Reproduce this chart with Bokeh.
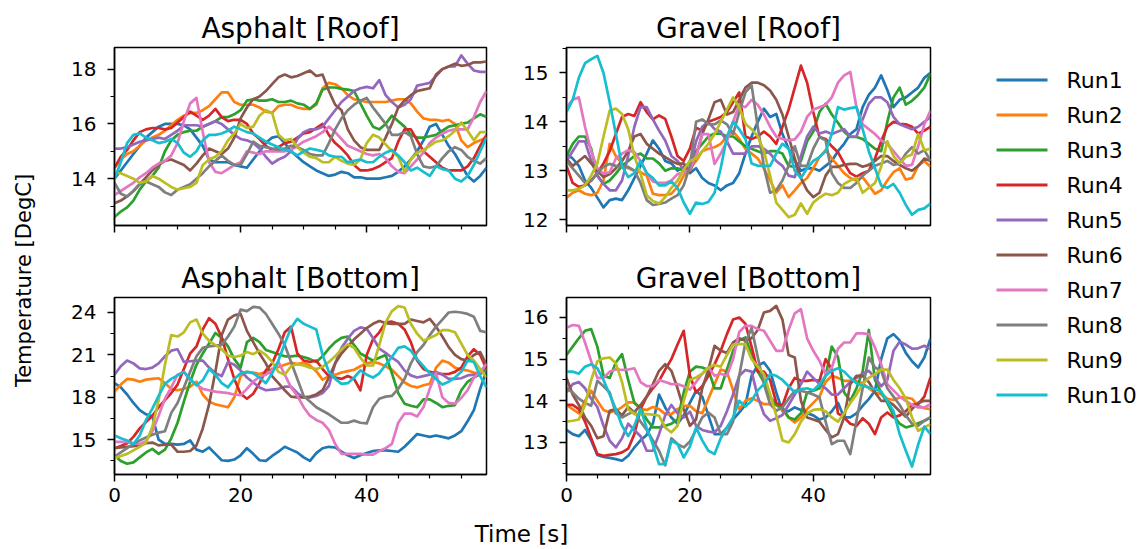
import math
from bokeh.plotting import figure
from bokeh.layouts import row, column
from bokeh.models import Range1d, FixedTicker, CustomJSTickFormatter
from bokeh.core.properties import value
from bokeh.embed import file_html
from bokeh.resources import INLINE

FONT = "DejaVu Sans"

time_s = list(range(60))
run_names = [f"Run{i}" for i in range(1, 11)]
run_colors = ["#1f77b4", "#ff7f0e", "#2ca02c", "#d62728", "#9467bd",
              "#8c564b", "#e377c2", "#7f7f7f", "#bcbd22", "#17becf"]

x_major = [0, 20, 40]
x_minor = [5, 10, 15, 25, 30, 35, 45, 50, 55]

# Asphalt, roof sensor (DegC), Run1..Run10
asphalt_roof = [
    [14.0,14.3,14.6,14.9,15.2,15.5,15.7,15.9,16.0,16.0,16.0,15.95,15.8,15.5,15.2,14.7,14.6,14.6,14.6,14.5,
     14.45,14.4,14.7,15.0,15.3,15.5,15.55,15.3,15.0,14.8,14.6,14.45,14.3,14.2,14.1,14.15,14.25,14.2,14.05,14.05,
     14.0,14.0,14.0,14.05,14.1,14.25,14.45,14.7,15.0,15.4,15.9,16.0,15.6,15.2,14.9,14.5,14.1,13.9,14.1,14.4],
    [14.4,14.7,14.9,15.0,15.2,15.4,15.5,15.6,15.75,15.95,16.15,16.3,16.4,16.4,16.5,16.65,16.9,17.15,17.15,16.8,
     16.7,16.7,16.7,16.6,16.45,16.4,16.65,16.7,16.7,16.6,16.55,16.55,16.7,17.3,17.5,17.45,17.3,17.05,16.9,16.85,
     16.8,16.8,16.8,16.8,16.85,16.9,16.9,16.75,16.45,16.2,16.15,16.15,16.1,16.15,16.0,15.4,15.15,15.3,15.4,15.5],
    [12.6,12.8,12.95,13.2,13.6,13.9,14.1,14.4,15.0,15.4,15.6,15.7,15.75,15.75,15.9,16.0,16.1,16.25,16.25,16.35,
     16.5,16.85,16.9,16.85,16.85,16.9,16.8,16.8,16.85,16.75,16.7,16.55,16.75,17.25,17.33,17.33,17.28,17.25,17.2,16.75,
     16.3,15.9,15.8,16.0,16.3,16.1,15.9,15.6,15.5,15.5,15.55,15.6,15.75,15.9,15.95,16.0,16.05,16.2,16.35,16.25],
    [14.4,14.8,15.05,15.4,15.7,15.8,15.85,15.85,15.8,15.85,16.05,16.25,16.45,16.3,16.15,16.3,16.55,16.25,16.1,16.15,
     16.15,16.0,15.65,15.45,15.2,15.05,15.15,15.3,15.35,15.5,15.65,15.7,15.85,16.0,15.6,15.3,15.1,14.85,14.5,14.3,
     14.3,14.35,14.45,14.6,14.75,15.35,15.8,15.8,15.4,15.0,14.8,14.6,14.4,14.3,14.3,14.3,14.45,14.75,15.2,15.6],
    [15.1,15.1,15.15,15.25,15.35,15.4,15.45,15.5,15.45,15.6,15.75,15.95,15.95,15.95,15.9,16.0,16.1,16.0,15.8,15.6,
     15.45,15.4,15.3,15.1,14.8,14.55,14.7,14.8,15.0,15.45,15.7,15.8,15.8,15.9,16.2,16.5,16.8,17.0,17.2,17.3,
     17.35,17.3,17.6,17.05,16.8,16.6,16.7,16.9,17.4,17.45,17.5,17.75,18.0,18.1,18.1,18.5,18.2,17.95,17.9,17.9],
    [13.1,13.2,13.35,13.55,13.8,14.05,14.3,14.5,14.65,14.7,14.6,14.5,14.3,14.55,14.85,15.1,15.0,14.9,15.1,15.5,
     16.2,16.6,16.9,17.0,17.2,17.45,17.7,17.8,17.7,17.75,17.85,17.95,17.75,17.8,17.2,16.7,16.5,15.8,15.4,15.15,
     15.05,15.05,15.05,15.5,16.0,16.6,16.85,17.05,17.2,17.25,17.3,17.8,18.0,18.1,18.2,18.12,18.15,18.25,18.25,18.28],
    [13.4,13.55,13.7,13.85,14.05,14.2,14.4,14.55,14.65,14.85,15.3,16.1,16.75,16.95,15.7,14.6,14.25,14.2,14.35,14.5,
     14.6,15.0,14.95,14.9,15.0,15.0,15.0,15.0,15.05,15.2,15.35,15.45,15.55,15.7,15.9,15.7,15.45,15.2,15.1,15.0,
     14.9,14.85,14.9,14.75,14.45,14.25,14.2,14.45,14.7,14.95,15.3,15.5,15.65,15.75,15.8,15.8,15.8,16.25,16.8,17.2],
    [13.85,13.45,13.35,13.55,13.8,13.9,13.8,13.7,13.5,13.4,13.6,13.7,13.8,14.0,14.2,14.45,14.65,14.85,14.65,14.5,
     14.5,14.9,15.35,15.2,15.15,15.1,15.05,15.1,15.2,15.15,15.05,14.9,14.85,14.85,15.3,15.8,16.2,16.5,16.7,16.85,
     16.95,16.6,16.3,16.0,15.6,15.6,15.7,15.55,14.9,14.45,14.4,14.45,14.75,15.0,15.15,15.05,14.8,14.65,14.55,14.75],
    [14.2,14.2,14.1,14.0,13.85,13.9,14.1,14.0,13.85,13.7,13.6,13.65,13.7,13.85,14.5,14.7,14.8,15.0,15.4,15.65,
     16.0,15.85,15.9,16.3,16.5,16.4,15.6,15.4,15.45,15.15,14.95,14.8,14.75,14.6,14.6,14.8,14.65,14.55,14.5,14.7,
     15.3,15.6,15.5,15.25,15.0,14.8,14.25,14.7,14.95,15.05,15.2,15.35,15.4,15.55,15.75,16.05,15.75,15.4,15.7,15.7],
    [14.0,14.6,15.3,15.6,15.65,15.5,15.4,15.3,15.35,15.45,15.3,14.95,14.8,15.0,15.4,15.6,15.6,15.65,15.75,15.9,
     15.8,15.7,15.65,15.5,15.35,15.25,15.15,15.05,15.0,14.85,15.0,15.1,15.05,15.0,14.85,14.8,14.8,14.6,14.65,14.7,
     14.6,14.6,14.8,14.95,15.05,14.85,14.6,14.3,14.4,14.25,14.1,14.45,14.35,14.3,14.0,13.9,14.1,14.5,15.0,15.5],
]

# Gravel, roof sensor (DegC), Run1..Run10
gravel_roof = [
    [13.35,13.25,13.1,12.8,12.65,12.45,12.25,12.4,12.43,12.4,12.6,12.85,13.1,13.35,13.62,13.45,13.2,13.15,13.0,13.08,
     12.95,13.05,12.85,12.75,12.7,12.6,12.7,12.75,12.95,13.35,13.7,14.0,14.27,14.1,14.16,13.75,13.45,13.2,13.0,13.05,
     13.05,13.0,13.1,13.2,13.4,13.55,13.75,13.85,14.3,14.55,14.7,14.95,14.65,14.3,14.45,14.5,14.6,14.7,14.9,15.0],
    [12.45,12.55,12.6,12.53,12.5,12.55,12.8,13.55,13.3,13.15,13.05,13.0,12.97,12.9,12.53,12.5,12.5,12.53,12.67,12.9,
     13.05,13.2,13.4,13.45,13.48,13.55,13.7,13.8,13.65,13.45,13.35,13.25,13.05,12.8,12.55,12.7,12.46,12.6,12.75,12.85,
     13.05,13.28,13.42,13.25,13.1,12.95,12.85,12.8,12.87,12.7,12.53,12.6,12.8,12.97,13.05,12.82,12.85,13.1,13.2,13.08],
    [13.3,13.55,13.7,13.7,13.45,12.9,12.73,12.8,12.94,13.1,13.2,13.3,13.35,13.25,13.25,13.15,13.0,13.05,13.05,13.0,
     13.2,13.4,13.55,13.7,13.76,13.76,13.7,13.7,13.6,13.5,13.45,13.4,13.35,13.4,13.4,13.35,13.1,13.08,13.2,13.6,
     13.8,14.2,14.37,14.15,13.98,13.8,13.69,13.69,13.65,13.55,13.45,13.4,14.0,14.5,14.7,14.35,14.43,14.55,14.7,14.98],
    [13.1,12.75,12.67,12.7,12.8,12.95,13.15,13.4,13.75,14.1,14.16,14.12,14.4,14.2,14.05,14.13,14.06,13.7,13.3,13.2,
     13.45,13.88,13.82,14.0,14.05,14.1,14.2,14.4,14.6,13.7,13.65,13.7,13.8,13.7,13.55,13.9,14.25,14.7,15.15,14.8,
     14.2,13.69,13.65,13.5,13.38,13.15,12.95,12.88,12.95,13.0,13.25,13.6,13.9,14.0,13.96,13.95,13.9,13.76,13.82,13.9],
    [13.2,13.4,13.6,13.6,13.2,12.9,12.73,12.6,12.6,12.8,13.3,13.9,14.3,14.3,14.05,13.82,13.62,13.3,13.2,13.02,
     13.05,13.6,13.9,14.0,13.85,13.8,13.6,13.35,13.35,13.35,13.5,13.5,13.45,13.35,13.2,13.1,12.9,12.87,13.3,13.7,
     13.9,13.76,13.8,13.75,13.8,13.85,13.7,13.7,14.05,14.37,14.5,14.5,14.4,14.1,13.95,13.9,13.85,13.9,14.0,14.1],
    [13.25,13.1,13.2,13.3,13.15,13.0,12.87,12.93,13.05,13.2,13.4,13.7,13.75,13.55,13.45,13.35,13.28,13.2,13.14,13.15,
     12.98,13.3,13.75,14.05,14.4,14.45,14.15,14.2,14.45,14.7,14.8,14.8,14.75,14.64,14.45,14.15,13.7,13.25,12.85,12.6,
     12.46,12.55,12.9,13.08,13.08,13.12,13.14,13.14,13.08,13.12,13.2,13.3,13.3,13.2,13.12,13.05,13.0,13.1,13.25,13.2],
    [14.3,14.45,14.5,13.9,13.4,13.05,12.94,12.97,13.25,13.35,13.42,13.38,13.2,12.95,12.78,12.75,12.75,12.8,12.93,12.97,
     13.02,13.3,13.75,13.75,13.14,13.35,13.6,14.0,14.35,14.3,14.45,14.35,14.15,13.9,13.7,13.65,13.62,13.64,13.8,14.1,
     14.25,14.3,14.35,14.5,14.8,14.95,15.02,14.3,13.95,13.85,13.75,13.62,13.55,13.4,13.25,13.1,13.12,13.5,13.95,14.23],
    [13.2,13.05,12.9,12.75,12.8,12.95,13.08,13.14,13.1,13.08,13.08,13.0,12.75,12.4,12.3,12.32,12.35,12.43,12.5,12.7,
     13.1,14.0,14.05,13.95,13.95,14.03,13.95,13.75,14.2,14.6,14.75,13.9,13.08,12.55,12.6,12.8,13.1,13.5,13.1,13.1,
     13.45,13.69,13.62,12.95,12.75,12.65,12.65,12.75,12.9,13.0,13.1,13.15,13.2,13.12,13.15,13.35,13.48,13.35,13.42,13.2],
    [12.6,12.6,12.63,12.7,12.9,13.15,13.7,14.23,14.27,14.16,13.85,13.3,12.94,12.5,12.38,12.33,12.46,12.65,12.8,13.02,
     13.2,13.25,13.4,13.55,13.75,14.0,14.25,14.5,14.3,13.96,13.85,13.7,13.4,12.9,12.35,12.2,12.05,12.1,12.33,12.12,
     12.35,12.45,12.53,12.5,12.55,12.73,12.8,12.85,12.55,12.65,12.75,13.08,13.6,13.3,13.15,13.28,13.33,13.75,13.42,13.45],
    [14.2,14.45,14.9,15.2,15.28,15.35,15.0,14.4,13.75,13.1,12.87,12.95,13.2,12.95,12.85,12.7,12.7,12.78,12.65,12.35,
     12.12,12.35,12.32,12.36,12.55,13.05,13.7,14.0,13.85,13.65,13.15,13.1,13.1,13.1,13.35,13.55,13.45,13.0,12.85,13.05,
     13.2,13.28,13.4,13.75,14.3,14.25,14.28,14.3,13.85,13.4,13.05,12.7,12.65,12.73,12.55,12.3,12.1,12.2,12.23,12.33],
]

# Asphalt, bottom sensor (DegC), Run1..Run10
asphalt_bottom = [
    [19.0,18.7,18.2,17.6,17.1,16.8,16.65,15.0,14.7,14.7,14.65,14.7,14.95,14.3,14.15,14.45,14.0,13.55,13.5,13.6,
     13.9,14.4,14.0,13.55,13.5,13.85,14.15,14.5,14.3,14.1,13.75,13.5,14.05,14.4,14.5,14.45,14.15,13.9,13.7,13.9,
     14.05,14.2,14.25,14.25,14.2,14.15,14.5,14.95,15.4,15.3,15.2,15.3,15.2,15.1,15.3,15.6,16.3,17.1,18.6,19.9],
    [18.4,18.9,19.3,19.25,19.1,19.25,19.3,19.35,19.0,18.6,18.5,18.6,18.75,19.1,18.2,17.7,17.5,17.4,17.3,18.0,
     19.5,19.8,19.75,19.65,19.8,20.0,20.15,20.3,20.45,20.35,20.45,20.25,19.85,19.25,19.5,19.6,19.75,19.85,19.95,20.2,
     20.4,20.5,20.4,20.2,19.95,19.5,19.05,18.8,18.7,18.85,18.95,20.1,20.6,20.45,20.1,19.95,19.9,19.75,19.65,20.0],
    [13.9,13.5,13.3,13.4,13.75,14.1,14.35,14.0,14.3,15.1,16.2,17.7,19.1,20.3,21.1,21.8,22.55,22.2,21.6,20.7,
     20.1,21.9,22.2,21.9,21.35,21.2,21.05,20.9,20.9,20.95,20.85,20.7,20.5,20.9,21.45,21.9,22.2,22.3,21.7,21.1,
     20.85,20.6,20.8,21.0,19.7,18.3,17.55,17.4,17.3,17.85,17.85,17.6,17.3,17.4,17.45,18.5,19.1,19.4,19.65,20.1],
    [14.4,14.55,14.75,15.2,15.8,16.25,16.7,17.3,17.8,18.3,18.9,20.0,21.1,21.6,22.8,23.6,23.2,22.25,20.7,19.3,
     18.25,17.9,18.25,19.0,19.9,20.4,21.4,22.6,23.0,21.1,20.6,20.5,20.6,20.0,19.5,19.4,19.3,19.5,19.3,18.5,
     21.0,22.1,22.6,23.3,23.35,23.2,22.8,21.9,20.6,20.0,19.8,19.7,19.65,19.65,19.8,20.1,20.9,21.4,21.0,20.0],
    [19.6,20.2,20.6,20.4,20.05,20.0,20.1,20.4,20.9,21.3,21.4,20.5,20.55,20.6,20.6,20.1,19.7,19.5,20.5,20.3,
     19.9,19.4,19.05,18.7,18.5,18.55,18.6,18.75,18.75,18.3,18.0,18.0,18.1,18.3,18.8,20.4,21.5,22.15,22.7,22.95,
     22.85,22.2,21.45,21.15,20.8,20.5,19.9,19.55,19.4,19.5,19.6,19.8,19.6,19.3,19.3,19.35,19.55,19.6,19.75,20.35],
    [14.4,14.45,14.5,14.55,14.6,14.75,14.8,14.6,14.65,14.65,14.15,14.15,14.2,14.6,15.8,17.5,19.8,22.4,23.5,23.8,
     23.9,22.7,21.9,21.1,20.4,19.5,19.0,18.5,18.05,18.0,18.0,18.05,18.2,18.5,19.4,20.4,21.1,21.6,22.1,22.5,
     22.9,23.2,23.4,23.25,23.2,23.2,23.2,23.5,23.4,23.3,23.55,23.0,22.3,21.55,21.0,20.7,20.6,21.0,21.2,20.3],
    [14.85,14.85,14.85,14.75,14.7,14.9,15.6,16.7,17.9,18.7,19.6,19.8,19.2,18.9,18.6,18.5,18.4,18.35,18.3,18.2,
     18.15,18.6,19.1,19.45,19.6,19.9,20.5,19.6,18.7,18.1,17.3,16.7,16.4,16.2,15.7,14.7,14.0,14.0,14.0,14.0,
     13.95,13.95,14.2,14.4,14.7,16.2,16.85,16.85,16.65,17.3,18.6,19.7,18.0,17.6,17.55,17.95,18.5,19.4,19.8,20.35],
    [13.8,14.1,14.4,14.7,14.95,15.15,15.35,15.5,15.6,16.9,17.6,18.7,19.8,20.9,21.5,21.6,21.65,21.7,22.3,23.0,
     24.2,24.1,24.4,24.35,23.9,23.2,22.5,21.7,20.5,19.3,18.1,17.7,17.3,17.05,16.8,16.5,16.2,16.2,16.35,16.2,
     16.15,17.3,17.9,18.05,18.1,18.6,19.3,20.4,21.2,21.7,22.4,23.0,23.5,24.0,24.05,24.0,23.9,23.7,22.7,22.6],
    [13.7,13.85,14.0,14.25,14.5,14.8,15.9,17.8,20.3,22.4,22.3,22.6,23.3,23.5,22.5,22.0,21.7,21.4,20.95,20.85,
     20.95,21.2,21.05,21.3,21.0,20.5,19.8,19.6,20.2,20.35,20.25,20.1,20.0,20.15,20.5,20.9,21.4,21.75,21.5,20.8,
     20.25,20.25,21.7,23.3,24.1,24.45,24.35,23.2,22.5,22.0,22.2,22.4,22.75,22.75,22.6,21.8,21.0,20.6,20.0,19.4],
    [15.3,15.1,14.95,14.7,15.3,16.4,17.2,18.1,18.95,19.3,19.55,19.8,19.3,18.85,19.2,20.0,19.6,19.0,18.7,19.3,
     19.7,19.8,19.7,19.4,19.0,19.7,20.6,21.8,22.9,23.55,23.2,23.0,22.8,21.0,19.8,19.3,18.95,19.0,19.4,19.9,
     19.6,19.4,19.7,20.3,20.85,21.5,21.6,21.3,20.7,20.2,19.7,19.3,18.9,19.1,19.4,19.8,20.6,20.5,19.5,18.7],
]

# Gravel, bottom sensor (DegC), Run1..Run10
gravel_bottom = [
    [13.3,13.2,13.15,13.3,13.05,12.7,12.65,12.63,12.6,12.56,12.68,12.88,13.05,13.18,13.45,14.15,13.84,13.6,13.45,13.65,
     13.95,14.24,14.1,13.65,13.2,13.2,13.35,13.55,13.72,13.9,14.6,14.85,14.92,14.72,14.2,13.75,13.75,13.84,13.78,13.7,
     13.65,13.55,13.6,13.75,13.95,13.6,13.6,13.7,13.88,14.04,14.24,15.0,15.5,15.6,15.45,15.15,14.95,14.8,15.04,15.5],
    [13.9,13.8,13.7,14.0,14.24,14.0,13.78,13.72,13.76,13.85,13.96,13.96,13.8,13.78,13.85,13.8,13.68,13.68,13.8,13.88,
     13.88,13.75,13.7,14.05,14.4,14.75,14.7,14.25,13.8,14.0,14.06,14.0,13.92,13.92,13.9,13.78,13.6,13.48,13.6,13.8,
     13.95,14.1,14.45,14.6,14.55,14.48,14.48,14.47,14.42,14.3,14.2,14.16,14.05,14.02,14.08,14.08,14.05,13.88,13.82,13.8],
    [15.1,15.3,15.5,15.68,15.72,15.3,14.6,14.55,14.92,15.12,14.5,13.95,13.82,13.55,13.36,13.36,13.4,13.45,13.55,14.2,
     14.7,14.82,14.8,14.74,14.3,14.3,14.75,15.2,15.45,15.52,15.1,14.7,14.45,14.1,13.9,13.84,13.6,13.55,13.7,14.2,
     14.24,14.3,14.6,15.3,15.05,14.2,14.0,14.3,14.7,15.7,14.5,14.2,13.95,13.65,13.45,13.36,13.4,13.46,13.52,13.6],
    [13.9,13.9,13.8,13.5,13.1,12.72,12.68,12.7,12.72,12.76,12.85,13.2,13.8,14.1,14.3,14.48,14.75,15.0,15.35,15.68,
     14.6,14.2,14.35,14.6,14.88,15.2,15.6,15.95,16.0,15.85,15.3,14.7,14.7,14.5,13.95,13.88,14.3,14.55,14.48,14.48,
     14.5,14.48,15.0,14.75,13.7,13.6,13.45,13.4,13.58,13.45,13.2,13.6,13.72,13.6,13.65,13.75,13.9,13.92,14.1,14.56],
    [14.2,14.4,14.45,14.3,14.05,13.85,13.4,13.04,12.88,13.1,13.45,13.3,13.15,12.8,12.8,13.2,13.65,13.9,13.7,13.6,
     13.74,13.4,13.3,13.26,13.24,13.4,13.75,14.15,14.6,14.74,14.7,14.1,13.68,13.52,13.58,13.66,13.9,14.15,14.4,14.7,
     14.55,14.4,14.3,14.15,14.15,14.3,14.45,14.55,14.65,14.72,14.56,14.35,14.5,15.2,15.42,15.35,15.25,15.26,15.32,15.24],
    [14.55,14.15,13.9,13.6,13.4,13.1,13.15,13.76,13.8,13.65,13.85,13.72,13.9,14.1,14.4,14.72,14.88,14.72,14.3,13.8,
     13.4,13.55,14.3,14.75,15.32,15.2,15.15,15.4,15.5,15.44,15.5,15.7,16.12,16.16,16.28,15.95,15.1,15.04,14.0,13.6,
     13.55,13.5,13.3,13.12,13.2,13.6,14.4,14.6,14.6,14.45,14.2,14.0,14.0,13.9,13.75,13.62,13.8,13.95,14.0,14.0],
    [15.75,15.82,15.8,15.4,14.95,14.55,14.55,14.7,14.76,14.74,14.75,14.78,14.45,14.35,14.35,14.5,14.45,14.4,14.4,14.35,
     14.27,14.45,14.65,14.8,14.6,14.65,14.6,15.0,15.65,15.8,15.8,15.72,15.68,15.44,15.2,15.2,15.7,16.1,16.2,15.5,
     15.2,14.96,14.64,14.8,15.25,15.4,15.4,15.62,15.62,15.6,15.28,14.88,14.4,14.25,14.1,14.0,13.9,13.84,13.84,13.92],
    [14.3,14.2,14.05,13.95,13.88,14.48,14.35,14.2,13.7,13.6,13.68,13.75,13.5,13.3,13.05,12.8,12.45,13.1,12.96,12.88,
     13.02,13.3,13.6,13.72,13.6,13.2,13.2,13.5,14.6,15.4,15.75,15.05,14.4,13.92,13.76,13.84,14.05,14.24,14.24,14.2,
     14.15,14.08,13.5,12.96,13.04,13.04,12.72,13.52,14.3,15.04,14.8,14.72,14.3,14.1,13.9,13.65,13.45,13.4,13.52,13.6],
    [13.5,13.52,13.55,13.9,14.5,14.95,15.02,15.04,14.9,14.45,13.8,13.68,13.68,13.68,13.67,13.64,13.36,13.24,13.4,14.0,
     14.5,14.56,14.65,14.8,14.86,14.82,15.1,15.35,15.36,15.36,15.0,14.82,14.64,14.16,13.65,13.05,13.0,13.2,13.5,13.7,
     13.78,13.8,13.75,13.6,13.5,13.7,13.95,14.15,14.4,14.55,14.64,14.75,14.75,14.5,14.3,14.05,13.6,13.28,13.36,13.44],
    [14.7,14.7,14.65,14.82,14.88,14.78,14.5,14.15,13.8,13.4,13.15,13.4,13.8,13.35,12.95,12.48,12.48,13.04,12.96,12.64,
     12.9,13.36,13.05,12.8,12.72,13.1,13.36,13.6,14.0,13.86,14.0,14.25,14.4,14.64,14.6,14.5,14.35,14.2,14.28,14.3,
     14.25,14.4,14.6,14.72,14.78,14.7,14.55,14.42,14.36,14.32,14.28,14.22,14.0,13.75,13.2,12.8,12.42,12.95,13.38,13.2],
]


def blank(width, height, x0, x1, y_top, y_bottom):
    """A bare canvas in page pixel coordinates (y grows downwards)."""
    p = figure(width=width, height=height, x_range=Range1d(x0, x1),
               y_range=Range1d(y_bottom, y_top), output_backend="svg",
               toolbar_location=None, x_axis_location=None, y_axis_location=None,
               min_border=0, title=None)
    p.grid.visible = False
    p.outline_line_color = None
    return p


def panel(title, series, y_lo, y_hi, y_major, y_minor, width, height,
          left, right, top, bottom, x_labels):
    p = figure(width=width, height=height,
               x_range=Range1d(0, 59), y_range=Range1d(y_lo, y_hi),
               output_backend="svg", toolbar_location=None,
               min_border_left=left, min_border_right=right,
               min_border_top=top, min_border_bottom=bottom)
    p.title.text = title
    p.title.align = "center"
    p.title.text_font = FONT
    p.title.text_font_size = "28px"
    p.title.text_font_style = "normal"
    p.title.text_color = "black"
    p.title.standoff = 5
    p.grid.visible = False
    p.outline_line_color = "black"
    p.outline_line_width = 1.5
    p.outline_line_alpha = 1.0

    p.xaxis.ticker = FixedTicker(ticks=x_major, minor_ticks=x_minor)
    p.yaxis.ticker = FixedTicker(ticks=y_major, minor_ticks=y_minor)
    for ax in (p.xaxis[0], p.yaxis[0]):
        ax.axis_line_color = "black"
        ax.axis_line_width = 1.5
        ax.major_tick_out = 7
        ax.major_tick_in = 0
        ax.minor_tick_out = 4
        ax.minor_tick_in = 0
        ax.major_tick_line_width = 1.5
        ax.minor_tick_line_width = 1.2
        ax.major_tick_line_color = "black"
        ax.minor_tick_line_color = "black"
        ax.major_label_text_font = FONT
        ax.major_label_text_font_size = "20px"
        ax.major_label_text_color = "black"
    p.yaxis.major_label_standoff = 11
    p.xaxis.major_label_standoff = 6
    if not x_labels:
        # shared time axis: tick marks only, the labels sit under the lower row
        p.xaxis.formatter = CustomJSTickFormatter(code="return '';")
        p.xaxis.major_label_standoff = 0

    for vals, color in zip(series, run_colors):
        p.line(time_s[:len(vals)], vals, line_color=color, line_width=2.7,
               line_join="round")
    return p


top_h, bot_h = 250, 264
ar = panel("Asphalt [Roof]", asphalt_roof, 12.29, 18.79, [14, 16, 18], [13, 15, 17],
           460, top_h, 54, 34, 47, 25, False)
gr = panel("Gravel [Roof]", gravel_roof, 11.88, 15.52, [12, 13, 14, 15],
           [12.5, 13.5, 14.5, 15.5], 440, top_h, 39, 30, 47, 25, False)
ab = panel("Asphalt [Bottom]", asphalt_bottom, 12.54, 25.06, [15, 18, 21, 24],
           [13.5, 16.5, 19.5, 22.5], 460, bot_h, 54, 34, 47, 40, True)
gb = panel("Gravel [Bottom]", gravel_bottom, 12.23, 16.48, [13, 14, 15, 16],
           [12.5, 13.5, 14.5, 15.5], 440, bot_h, 39, 30, 47, 40, True)

# shared axis labels
ylab = blank(60, 549, 0, 60, 0, 549)
ylab.text(x=[23], y=[280], text=["Temperature [DegC]"], angle=math.pi / 2,
          text_align="center", text_baseline="middle", text_font=value(FONT),
          text_font_size="21px", text_color="black")

xlab = blank(900, 35, 60, 960, 514, 549)
xlab.text(x=[521], y=[533], text=["Time [s]"], text_align="center",
          text_baseline="middle", text_font=value(FONT), text_font_size="23px",
          text_color="black")

# legend column
leg = blank(185, 549, 960, 1145, 0, 549)
leg_y = [79.5 + 35 * i for i in range(len(run_names))]
leg.segment(x0=[996] * len(run_names), x1=[1047] * len(run_names), y0=leg_y, y1=leg_y,
            line_color=run_colors, line_width=3)
leg.text(x=[1066] * len(run_names), y=leg_y, text=run_names, text_align="left",
         text_baseline="middle", text_font=value(FONT), text_font_size="22px",
         text_color="black")

layout = row(ylab, column(row(ar, gr), row(ab, gb), xlab), leg)

open("out.html", "w").write(file_html(layout, INLINE))
